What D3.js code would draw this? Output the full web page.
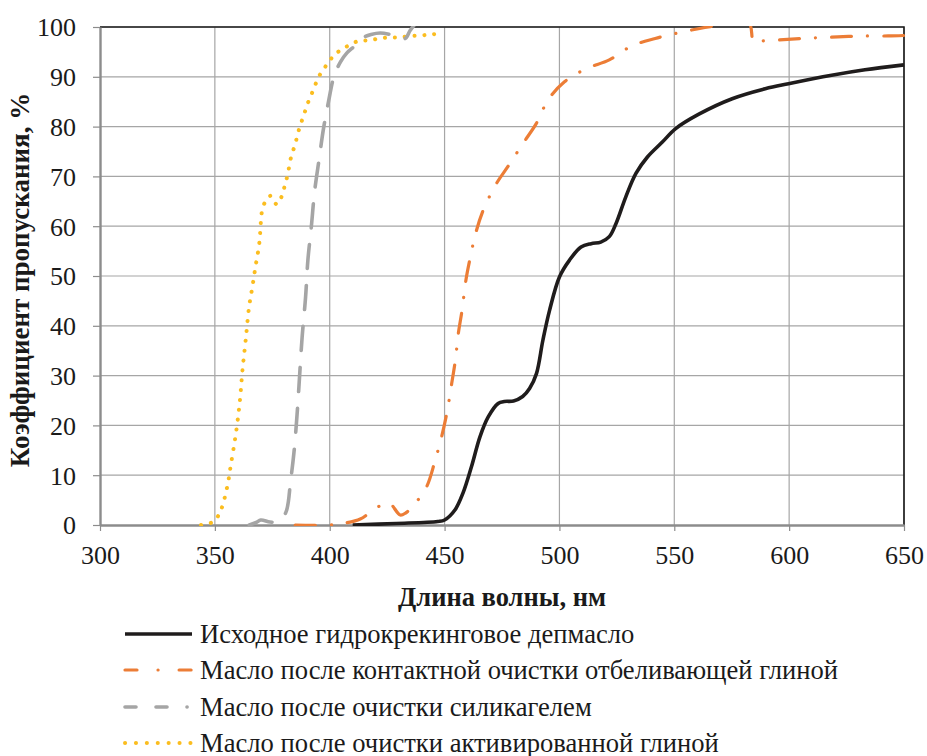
<!DOCTYPE html>
<html>
<head>
<meta charset="utf-8">
<script src="https://cdn.jsdelivr.net/npm/d3@7"></script>
<style>
  html, body { margin: 0; padding: 0; background: #fff; }
  svg text { font-family: "Times New Roman", "Liberation Serif", Times, "DejaVu Serif", serif; }
</style>
</head>
<body>
<svg id="chart" width="927" height="756"></svg>
<script>
// ─── Data (wavelength nm, transmittance %) ──────────────────────────────────

const xTicks = [300, 350, 400, 450, 500, 550, 600, 650];
const yTicks = [0, 10, 20, 30, 40, 50, 60, 70, 80, 90, 100];

const seriesNames = [
  'Исходное гидрокрекинговое депмасло',
  'Масло после контактной очистки отбеливающей глиной',
  'Масло после очистки силикагелем',
  'Масло после очистки активированной глиной',
];

const baseOil = [
  [410, 0], [429, 0.3], [447, 0.7], [450, 1], [454.5, 3], [458, 6.4], [461.7, 11.7],
  [465.4, 17.7], [469, 21.7], [473.3, 24.4], [476, 24.8], [480, 24.9], [484, 25.8],
  [487, 27.4], [490, 30.4], [492.8, 37.1], [495.7, 43.1], [500, 49.8], [504.4, 53.2],
  [509.4, 55.8], [513.8, 56.5], [518, 56.8], [521.7, 57.9], [524.6, 60.5], [528.9, 65.9],
  [533.3, 70.6], [538.3, 73.9], [544.8, 76.9], [550.6, 79.6], [560.7, 82.5], [575.2, 85.6],
  [589.6, 87.6], [599.7, 88.6], [618.5, 90.3], [633, 91.4], [650, 92.4],
];

const contactClay = [
  [385, 0], [399.6, 0], [406.8, 0.4], [413.3, 1.2], [419.5, 3.2], [424, 4.3], [426.3, 4.3],
  [430.7, 2], [433, 2.4], [436.8, 4.1], [442.2, 7.7], [445.9, 13], [448.7, 17.7],
  [451.2, 23], [453.1, 28.4], [454.7, 33.1], [456, 38.5], [457.6, 43.1], [459.3, 49.2],
  [461, 53.3], [463.5, 58.5], [466.8, 63.2], [472.6, 68.6], [477.6, 72], [484.1, 76.6],
  [489.9, 80.6], [495, 85.3], [502.2, 89], [511.6, 91.6], [521.7, 93.4], [531.5, 96.2],
  [541.7, 97.7], [552.5, 98.9], [563.3, 99.9], [573.7, 100.6], [582.5, 100.8],
  [584.6, 97], [588.2, 97.2], [599.3, 97.5], [610, 97.8], [621.1, 98], [631.5, 98.2],
  [643.1, 98.2], [650, 98.3],
];

const silicaGel = [
  [365, 0], [368, 0.5], [370, 1], [374, 0.6], [377.2, 0.7], [380.8, 2.4], [383, 9],
  [384.4, 14.4], [385.6, 21], [386.6, 27.8], [388, 37.8], [389.5, 45.8], [390.5, 53.2],
  [392, 59.9], [393.4, 66.9], [395.3, 73.2], [397.4, 79.9], [399.6, 85.3], [401.8, 90],
  [404.7, 93], [407.5, 94.8], [410.4, 96], [414.8, 97.9], [418, 98.5], [422, 98.8],
  [426.3, 98.5], [430, 98], [432.9, 97.7], [435, 99.3], [437, 100.5],
];

const activatedClay = [
  [344, 0], [348.6, 0.5], [351.7, 2], [353.4, 4], [355.6, 8.2], [357, 12.2], [359.2, 18.5],
  [360.9, 25], [362, 31], [363.5, 37.5], [364.9, 43.8], [366.4, 48], [367.8, 52.2],
  [369.3, 56.4], [370, 60.7], [370.4, 62.7], [371.7, 64.7], [374.3, 66.1], [376.9, 64.4],
  [379.1, 66], [380.4, 68.1], [381.6, 70.2], [383.4, 74.3], [384.9, 76.3], [386, 78.4],
  [387.3, 80.4], [388.8, 82.4], [390.2, 84.4], [392, 86.4], [393.8, 88.5], [395.7, 90.4],
  [398.2, 92.1], [401.1, 93.9], [404.2, 95.2], [408.3, 96.3], [412.6, 97.2], [417, 97.3],
  [421.6, 97.7], [426, 97.9], [430.7, 97.9], [435, 98.2], [439.6, 98.3], [444, 98.5],
  [448.7, 98.7],
];

// ─── Styles ─────────────────────────────────────────────────────────────────

const FONT = '"Times New Roman", "Liberation Serif", Times, "DejaVu Serif", serif';

const STYLES = [
  { data: baseOil,       color: '#1f1c1c', width: 3.6, dash: null,            legDash: null,             cap: 'butt' },
  { data: contactClay,   color: '#ec7d36', width: 3.2, dash: '20,16,0.1,16',  legDash: '12,21,0.1,21',   cap: 'round' },
  { data: silicaGel,     color: '#a5a5a5', width: 3.6, dash: '24,17',         legDash: '11,20,11,20,0.1,20', cap: 'round' },
  { data: activatedClay, color: '#fbbd1f', width: 4,   dash: '0.1,9.8',       legDash: '0.1,10.8',       cap: 'round' },
];

// ─── Setup ──────────────────────────────────────────────────────────────────

const svg = d3.select('#chart');
const L = 100, R = 904, T = 27, B = 525;

const x = d3.scaleLinear().domain([300, 650]).range([L, R]);
const y = d3.scaleLinear().domain([0, 100]).range([B, T]);

svg.append('defs').append('clipPath').attr('id', 'plot-clip')
  .append('rect').attr('x', L).attr('y', T - 1).attr('width', R - L + 2).attr('height', B - T + 2);

// gridlines
svg.append('g').selectAll('line.vg').data(xTicks.slice(1)).join('line')
  .attr('x1', d => x(d)).attr('x2', d => x(d)).attr('y1', T).attr('y2', B)
  .attr('stroke', '#a6a6a6').attr('stroke-width', 1.2);
svg.append('g').selectAll('line.hg').data(yTicks.slice(1)).join('line')
  .attr('x1', L).attr('x2', R).attr('y1', d => y(d)).attr('y2', d => y(d))
  .attr('stroke', '#a6a6a6').attr('stroke-width', 1.2);

// top + right frame
svg.append('path')
  .attr('d', `M${L},${T}H${R}V${B}`)
  .attr('fill', 'none').attr('stroke', '#1a1a1a').attr('stroke-width', 1.6);

// axes
const xAxis = svg.append('g').attr('transform', `translate(0,${B})`)
  .call(d3.axisBottom(x).tickValues(xTicks).tickSize(6).tickSizeOuter(0).tickPadding(15));
const yAxis = svg.append('g').attr('transform', `translate(${L},0)`)
  .call(d3.axisLeft(y).tickValues(yTicks).tickSize(7).tickSizeOuter(0).tickPadding(17));

[xAxis, yAxis].forEach(a => {
  a.attr('font-family', FONT);
  a.select('.domain').attr('stroke', '#8c8c8c').attr('stroke-width', 2.4);
  a.selectAll('.tick line').attr('stroke', '#8c8c8c').attr('stroke-width', 1.2);
  a.selectAll('.tick text')
    .attr('fill', '#1a1a1a')
    .style('font-family', FONT)
    .style('font-size', '26px');
});
yAxis.selectAll('.tick text').attr('dy', '0.34em');

// ─── Series ─────────────────────────────────────────────────────────────────

const lineFree = d3.line().x(d => x(d[0])).y(d => y(d[1])).curve(d3.curveCatmullRom.alpha(0.5));

const plot = svg.append('g').attr('clip-path', 'url(#plot-clip)');
STYLES.slice().reverse().forEach(s => {
  plot.append('path')
    .attr('d', lineFree(s.data))
    .attr('fill', 'none')
    .attr('stroke', s.color)
    .attr('stroke-width', s.width)
    .attr('stroke-dasharray', s.dash)
    .attr('stroke-linecap', s.cap)
    .attr('stroke-linejoin', 'round');
});

// ─── Axis titles ────────────────────────────────────────────────────────────

svg.append('text')
  .attr('x', 502).attr('y', 606)
  .attr('text-anchor', 'middle')
  .style('font-family', FONT)
  .style('font-size', '26.5px').style('font-weight', 'bold')
  .attr('fill', '#1a1a1a')
  .text('Длина волны, нм');

svg.append('text')
  .attr('transform', 'translate(29,280) rotate(-90)')
  .attr('text-anchor', 'middle')
  .style('font-family', FONT)
  .style('font-size', '27px').style('font-weight', 'bold')
  .attr('fill', '#1a1a1a')
  .text('Коэффициент пропускания, %');

// ─── Legend ─────────────────────────────────────────────────────────────────

const legend = svg.append('g');
const legY = [634, 670, 707, 743];
STYLES.forEach((s, i) => {
  const g = legend.append('g').attr('transform', `translate(0,${legY[i]})`);
  g.append('line')
    .attr('x1', 125).attr('x2', 192).attr('y1', 0).attr('y2', 0)
    .attr('stroke', s.color).attr('stroke-width', s.width)
    .attr('stroke-dasharray', s.legDash).attr('stroke-linecap', s.cap);
  g.append('text')
    .attr('x', 200).attr('y', 9)
    .style('font-family', FONT)
    .style('font-size', '26.6px')
    .attr('fill', '#1a1a1a')
    .text(seriesNames[i]);
});
</script>
</body>
</html>
